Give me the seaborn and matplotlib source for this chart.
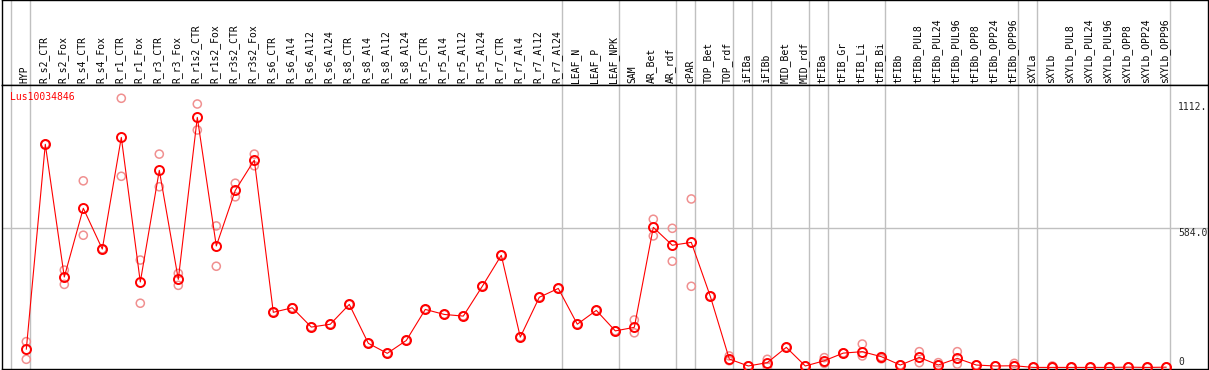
import matplotlib
matplotlib.use("Agg")
import matplotlib.pyplot as plt
import pandas as pd
import seaborn as sns

# sample names (one column each)
samples = [
    "HYP", "R_s2_CTR", "R_s2_Fox", "R_s4_CTR", "R_s4_Fox", "R_r1_CTR", "R_r1_Fox",
    "R_r3_CTR", "R_r3_Fox", "R_r1s2_CTR", "R_r1s2_Fox", "R_r3s2_CTR", "R_r3s2_Fox",
    "R_s6_CTR", "R_s6_Al4", "R_s6_Al12", "R_s6_Al24", "R_s8_CTR", "R_s8_Al4",
    "R_s8_Al12", "R_s8_Al24", "R_r5_CTR", "R_r5_Al4", "R_r5_Al12", "R_r5_Al24",
    "R_r7_CTR", "R_r7_Al4", "R_r7_Al12", "R_r7_Al24", "LEAF_N", "LEAF_P", "LEAF_NPK",
    "SAM", "AR_Bet", "AR_rdf", "cPAR", "TOP_Bet", "TOP_rdf", "iFIBa", "iFIBb",
    "MID_Bet", "MID_rdf", "tFIBa", "tFIB_Gr", "tFIB_Li", "tFIB_Bi", "tFIBb",
    "tFIBb_PUL8", "tFIBb_PUL24", "tFIBb_PUL96", "tFIBb_OPP8", "tFIBb_OPP24",
    "tFIBb_OPP96", "sXYLa", "sXYLb", "sXYLb_PUL8", "sXYLb_PUL24", "sXYLb_PUL96",
    "sXYLb_OPP8", "sXYLb_OPP24", "sXYLb_OPP96",
]

# mean expression per sample
means = [
    76, 935, 379, 667, 496, 964, 358, 826, 369, 1048, 509, 742, 869,
    231, 250, 169, 181, 264, 101, 59, 113, 243, 222, 215, 340,
    470, 127, 294, 331, 181, 239, 153,
    168, 587, 512, 524, 298, 35, 6, 20, 84, 6, 28, 60, 66, 45, 10,
    42, 10, 38, 10, 6, 7, 0, 0, 0, 0, 0, 1, 0, 1,
]

# replicate values (upper / lower)
rep_hi = [
    108, 935, 408, 782, 496, 1128, 450, 894, 394, 1104, 593, 772, 894,
    231, 250, 169, 181, 264, 101, 59, 113, 243, 222, 215, 340,
    470, 127, 294, 331, 181, 239, 153,
    199, 621, 583, 706, 298, 48, 6, 34, 84, 6, 41, 60, 98, 45, 10,
    66, 20, 66, 10, 6, 17, 0, 6, 0, 0, 0, 1, 0, 1,
]
rep_lo = [
    34, 935, 348, 554, 496, 801, 269, 757, 344, 995, 424, 715, 845,
    231, 250, 169, 181, 264, 101, 59, 113, 243, 222, 215, 340,
    470, 127, 294, 331, 181, 239, 153,
    145, 551, 445, 340, 298, 28, 6, 3, 84, 6, 17, 60, 48, 36, 10,
    20, 10, 14, 10, 6, 7, 0, 0, 0, 0, 0, 1, 0, 1,
]

# last sample index of each group (-1 = left edge)
group_ends = [-1, 0, 28, 31, 34, 35, 37, 38, 39, 41, 42, 45, 52, 53, 60]
value_marks = [1112, 584]
value_labels = ["1112.", "584.0"]
gene = "Lus10034846"

sns.set_style("white")
plt.rcParams["font.family"] = ["DejaVu Sans Mono", "DejaVu Sans"]

W, H = 1209, 370
fig = plt.figure(figsize=(W / 100, H / 100), dpi=100)
left, right = 1.5, 1208
head = fig.add_axes([left / W, (H - 85) / H, (right - left) / W, 85 / H])
ax = fig.add_axes([left / W, (H - 368.7) / H, (right - left) / W, (368.7 - 85) / H])

xlim = ((left - 26.3) / 19, (right - 26.3) / 19)
for a in (head, ax):
    a.set_xlim(*xlim)
    a.set_xticks([])
    a.set_yticks([])
    a.set_xlabel("")
    a.set_ylabel("")
    for s in a.spines.values():
        s.set_color("black")
        s.set_linewidth(1.0)
    for g in group_ends:
        a.axvline(g + 0.22, color="#c0c0c0", lw=1.0, zorder=1)

head.set_ylim(0, 85)
for i, name in enumerate(samples):
    head.text(i - 0.08, 2, name, rotation=90, ha="center", va="bottom",
              fontsize=7, color="black")

df = pd.DataFrame({"x": range(len(samples)), "mean": means,
                   "hi": rep_hi, "lo": rep_lo})
reps = df.melt(id_vars=["x"], value_vars=["hi", "lo"], value_name="expr")

ax.axhline(584, color="#c0c0c0", lw=1.0, zorder=1)
sns.scatterplot(data=reps, x="x", y="expr", ax=ax, marker="o", s=34,
                facecolor="none", edgecolor="#f09090", linewidth=1.1, zorder=3)
sns.lineplot(data=df, x="x", y="mean", ax=ax, color="red", lw=0.8,
             marker="o", markersize=6.5, markerfacecolor="none",
             markeredgecolor="red", markeredgewidth=1.4, zorder=4)

ax.set_ylim(-5.4, 1183.6)
ax.set_xlim(*xlim)
ax.set_xticks([])
ax.set_yticks([])
ax.set_xlabel("")
ax.set_ylabel("")

for v, lab in zip(value_marks, value_labels):
    ax.text(60.62, v, lab, ha="left", va="top", fontsize=7, clip_on=True)
ax.text(60.62, 2, "0", ha="left", va="bottom", fontsize=7, clip_on=True)
ax.text(-0.86, 1133, gene, ha="left", va="center", fontsize=7, color="red")

fig.savefig("out.png", dpi=100)
